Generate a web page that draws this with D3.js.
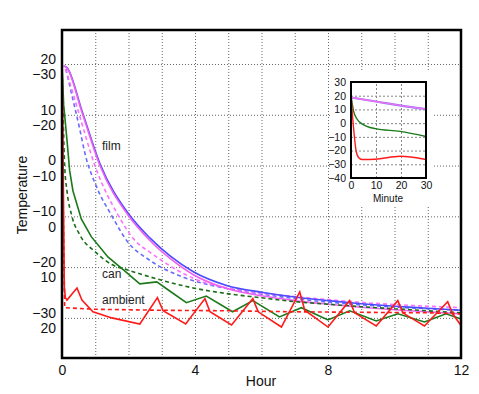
<!DOCTYPE html>
<html>
<head>
<meta charset="utf-8">
<script src="https://cdn.jsdelivr.net/npm/d3@7"></script>
<style>
  body { margin: 0; background: #fff; }
  svg { display: block; font-family: "Liberation Sans", Arial, sans-serif; }
  .grid line { stroke: #666; stroke-dasharray: 1,2; }
  .grid .domain { display: none; }
  .igrid line { stroke: #888; stroke-dasharray: 2,2; }
  .igrid .domain { display: none; }
</style>
</head>
<body>
<svg id="chart" width="479" height="394"></svg>
<script>
// ---- main chart data (hours, degrees) ----
const yTicksA = [20, 10, 0, -10, -20, -30];
const yTicksB = [-30, -20, -10, 0, 10, 20];
const xTicks = [0, 4, 8, 12];

const filmMagT = [0.05, 0.15, 0.6, 1.14, 1.99, 2.65, 3.25, 3.95, 4.95, 6.05, 7, 8, 9, 10, 11, 12];
const filmMagV = [19.6, 19.2, 10.5, 0, -9.8, -14.8, -18.3, -21.5, -24.2, -25.7, -26.6, -27.3, -27.9, -28.4, -28.8, -29.2];
const filmBlueT = [0.05, 0.15, 0.6, 1.14, 1.99, 2.65, 3.25, 3.95, 4.95, 6.05, 7, 8, 9, 10, 11, 12];
const filmBlueV = [19.6, 19.3, 10.8, 0.4, -9.4, -14.3, -17.8, -20.9, -23.6, -25.0, -25.9, -26.6, -27.2, -27.7, -28.1, -28.5];
const filmMagDashT = [0.1, 0.2, 0.48, 0.99, 1.69, 2.2, 2.65, 3.95, 5.65, 7, 8, 9.56, 11, 12];
const filmMagDashV = [19, 17, 10.9, 0, -9.8, -14.8, -17.1, -22.2, -24.8, -25.8, -26.4, -27.2, -27.7, -28];
const filmBlueDashT = [0.12, 0.24, 0.54, 0.69, 1.04, 1.49, 1.95, 2.65, 3.65, 4.95, 6, 7, 8, 9.56, 11, 12];
const filmBlueDashV = [19, 15.5, 7, 2.4, -4.2, -9.8, -14.8, -18.7, -22, -24.2, -25.3, -26.2, -26.9, -27.7, -28.2, -28.5];

const canT = [0, 0.05, 0.15, 0.23, 0.33, 0.58, 0.88, 1.38, 1.84, 2.34, 2.85, 3.24, 3.74, 4.34, 5.13, 5.74, 6.54, 7.2, 8.0, 8.65, 9.45, 10.1, 10.9, 11.55, 12];
const canV = [20, 12, 5, -1, -5, -10.5, -14, -18, -20.5, -23.3, -22.9, -24.7, -27, -25.7, -28.8, -26.6, -29.8, -28, -30.4, -28.6, -30.6, -29.2, -30.8, -29.2, -30.2];
const canDashT = [0, 0.08, 0.15, 0.3, 0.55, 1.0, 1.5, 1.95, 2.95, 3.94, 4.94, 5.94, 7, 8, 9, 10, 11, 12];
const canDashV = [20, 0, -5, -10, -13.8, -17, -19.5, -20.5, -22.5, -24.1, -25.2, -26, -26.8, -27.3, -27.8, -28.2, -28.6, -29];

const ambT = [0, 0.02, 0.07, 0.1, 0.15, 0.45, 0.6, 0.93, 1.5, 2.34, 2.87, 3.04, 3.72, 4.3, 4.45, 5.1, 5.74, 5.9, 6.6, 7.15, 7.3, 8.0, 8.65, 8.8, 9.45, 10.1, 10.25, 10.9, 11.6, 11.75, 12];
const ambV = [21.6, 10, -24, -26, -26.5, -24.1, -26.5, -28.8, -30, -31.2, -26.0, -28.6, -31.2, -26.2, -28.8, -31.4, -26.2, -28.8, -31.8, -24.9, -28.5, -31.8, -26.6, -29, -31.6, -26.6, -29, -31.6, -26.8, -29.2, -31.5];
const ambSetT = [0, 0.04, 0.08, 1, 3, 5, 7, 9, 11, 12];
const ambSetV = [20, -10, -28, -28.3, -28.5, -28.6, -28.8, -28.9, -29, -29.2];

// ---- inset data (minutes) ----
const insetYTicks = [30, 20, 10, 0, -10, -20, -30, -40];
const insetXTicks = [0, 10, 20, 30];
const inFilmT = [0, 10, 20, 30];
const inFilmV = [18.7, 15.8, 12.8, 10.3];
const inCanT = [0, 1, 2.4, 4.4, 9.7, 19.6, 30];
const inCanV = [20, 9, 3, -0.5, -4, -6, -9.7];
const inAmbT = [0, 1, 2, 3, 4.4, 9.7, 19.6, 30];
const inAmbV = [20, -3, -19.8, -25, -26.5, -26.3, -24.1, -26.5];

const svg = d3.select("#chart");
const mLeft = 62, mRight = 461, mTop = 30, mBottom = 358;

const x = d3.scaleLinear().domain([0, 12]).range([mLeft, mRight]);
const y = d3.scaleLinear().domain([-37.9, 26.7]).range([mBottom, mTop]);
const yB = d3.scaleLinear().domain([-30, 20]).range([y(20), y(-30)]);

// grid
svg.append("g").attr("class", "grid")
  .attr("transform", `translate(0,${mBottom})`)
  .call(d3.axisBottom(x).tickValues(d3.range(1, 12)).tickSize(-(mBottom - mTop)).tickFormat(""));
svg.append("g").attr("class", "grid")
  .attr("transform", `translate(${mLeft},0)`)
  .call(d3.axisLeft(y).tickValues(yTicksA).tickSize(-(mRight - mLeft)).tickFormat(""));

// y tick labels: two overlapping scales
const yAxisA = svg.append("g")
  .attr("transform", `translate(${mLeft - 6},0)`)
  .call(d3.axisLeft(y).tickValues(yTicksA).tickSize(0).tickPadding(0));
yAxisA.select(".domain").remove();
yAxisA.selectAll("text").attr("dy", "-0.05em").attr("font-size", 14).attr("fill", "#111");

const yAxisB = svg.append("g")
  .attr("transform", `translate(${mLeft - 6},0)`)
  .call(d3.axisLeft(yB).tickValues(yTicksB).tickSize(0).tickPadding(0));
yAxisB.select(".domain").remove();
yAxisB.selectAll("text").attr("dy", "1.05em").attr("font-size", 14).attr("fill", "#111");

// x axis labels
const xAxis = svg.append("g")
  .attr("transform", `translate(0,${mBottom})`)
  .call(d3.axisBottom(x).tickValues(xTicks).tickSize(0).tickPadding(7));
xAxis.select(".domain").remove();
xAxis.selectAll("text").attr("font-size", 14).attr("fill", "#111");

svg.append("text").attr("x", 261).attr("y", 386).attr("text-anchor", "middle")
  .attr("font-size", 14).attr("fill", "#111").text("Hour");
svg.append("text").attr("transform", "translate(27,195) rotate(-90)")
  .attr("text-anchor", "middle").attr("font-size", 14).attr("fill", "#111").text("Temperature");

// series
const smooth = d3.line().x(d => x(d[0])).y(d => y(d[1])).curve(d3.curveMonotoneX);
const sharp = d3.line().x(d => x(d[0])).y(d => y(d[1]));
const pairs = (t, v) => t.map((d, i) => [d, v[i]]);

const series = [
  { t: filmBlueDashT, v: filmBlueDashV, color: "#6a6aff", dash: "4,3", gen: smooth },
  { t: filmMagDashT, v: filmMagDashV, color: "#ff70ff", dash: "4,3", gen: smooth },
  { t: filmBlueT, v: filmBlueV, color: "#4a4aff", dash: null, gen: smooth },
  { t: filmMagT, v: filmMagV, color: "#f060f0", dash: null, gen: smooth },
  { t: canDashT, v: canDashV, color: "#1a6e1a", dash: "4,3", gen: smooth },
  { t: canT, v: canV, color: "#1a7a1a", dash: null, gen: sharp },
  { t: ambSetT, v: ambSetV, color: "#ff1a1a", dash: "4,3", gen: sharp },
  { t: ambT, v: ambV, color: "#ff1a1a", dash: null, gen: sharp }
];

svg.append("g").selectAll("path")
  .data(series)
  .join("path")
  .attr("d", d => d.gen(pairs(d.t, d.v)))
  .attr("fill", "none")
  .attr("stroke", d => d.color)
  .attr("stroke-width", 1.6)
  .attr("stroke-dasharray", d => d.dash);

// labels on curves
svg.append("text").attr("x", 102).attr("y", 150).attr("font-size", 12).attr("fill", "#222").text("film");
svg.append("text").attr("x", 102).attr("y", 278).attr("font-size", 12).attr("fill", "#222").text("can");
svg.append("text").attr("x", 102).attr("y", 304).attr("font-size", 12).attr("fill", "#222").text("ambient");

// frame
svg.append("rect").attr("x", mLeft).attr("y", mTop)
  .attr("width", mRight - mLeft).attr("height", mBottom - mTop)
  .attr("fill", "none").attr("stroke", "#000").attr("stroke-width", 2.5);

// ---- inset ----
const il = 351, ir = 426, it = 82, ib = 178;
svg.append("rect").attr("x", 330).attr("y", 70).attr("width", 104).attr("height", 136).attr("fill", "#fff");

const ix = d3.scaleLinear().domain([0, 30]).range([il, ir]);
const iy = d3.scaleLinear().domain([-40, 30]).range([ib, it]);

svg.append("g").attr("class", "igrid")
  .attr("transform", `translate(0,${ib})`)
  .call(d3.axisBottom(ix).tickValues([10, 20]).tickSize(-(ib - it)).tickFormat(""));
svg.append("g").attr("class", "igrid")
  .attr("transform", `translate(${il},0)`)
  .call(d3.axisLeft(iy).tickValues(d3.range(-30, 30, 10)).tickSize(-(ir - il)).tickFormat(""));

const iyAxis = svg.append("g")
  .attr("transform", `translate(${il},0)`)
  .call(d3.axisLeft(iy).tickValues(insetYTicks).tickSize(0).tickPadding(5));
iyAxis.select(".domain").remove();
iyAxis.selectAll("text").attr("font-size", 10.5).attr("fill", "#111");

const ixAxis = svg.append("g")
  .attr("transform", `translate(0,${ib})`)
  .call(d3.axisBottom(ix).tickValues(insetXTicks).tickSize(0).tickPadding(4));
ixAxis.select(".domain").remove();
ixAxis.selectAll("text").attr("font-size", 10.5).attr("fill", "#111");

svg.append("text").attr("x", 388).attr("y", 202).attr("text-anchor", "middle")
  .attr("font-size", 10).attr("fill", "#111").text("Minute");

const iline = d3.line().x(d => ix(d[0])).y(d => iy(d[1])).curve(d3.curveMonotoneX);
const insetSeries = [
  { t: inFilmT, v: inFilmV, color: "#8a7aff", w: 2.2 },
  { t: inFilmT, v: inFilmV, color: "#f070f0", w: 1.4 },
  { t: inCanT, v: inCanV, color: "#1a7a1a", w: 1.4 },
  { t: inAmbT, v: inAmbV, color: "#ff1a1a", w: 1.4 }
];
svg.append("g").selectAll("path")
  .data(insetSeries)
  .join("path")
  .attr("d", d => iline(pairs(d.t, d.v)))
  .attr("fill", "none")
  .attr("stroke", d => d.color)
  .attr("stroke-width", d => d.w);

svg.append("rect").attr("x", il).attr("y", it)
  .attr("width", ir - il).attr("height", ib - it)
  .attr("fill", "none").attr("stroke", "#000").attr("stroke-width", 2);
</script>
</body>
</html>
